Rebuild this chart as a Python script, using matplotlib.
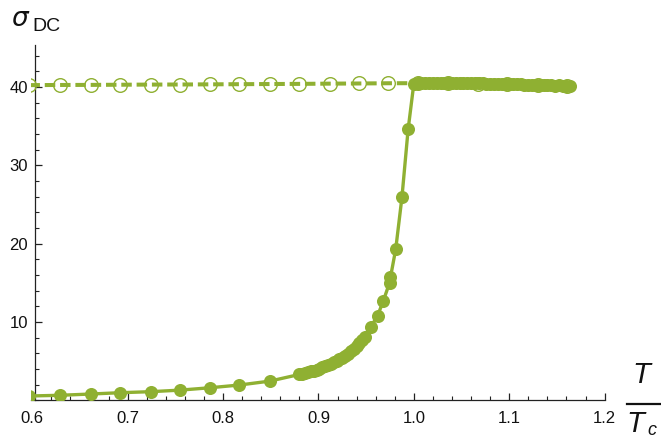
import matplotlib
matplotlib.use("Agg")
import matplotlib.pyplot as plt
from matplotlib.lines import Line2D
from matplotlib.ticker import MultipleLocator

# ---- data ----
hollow_x = [0.597, 0.629, 0.661, 0.692, 0.724, 0.755, 0.786, 0.817, 0.849, 0.880,
            0.912, 0.942, 0.973, 1.004, 1.036, 1.067, 1.098, 1.130, 1.161]
hollow_y = [40.25, 40.27, 40.28, 40.30, 40.32, 40.33, 40.35, 40.37, 40.39, 40.41,
            40.44, 40.46, 40.49, 40.50, 40.50, 40.45, 40.40, 40.30, 40.15]

solid_x = [0.597, 0.629, 0.661, 0.692, 0.724, 0.755, 0.786, 0.817, 0.849,
           0.880, 0.883, 0.886, 0.889, 0.892, 0.895, 0.898, 0.901, 0.904, 0.907,
           0.910, 0.913, 0.916, 0.919, 0.922, 0.925, 0.928, 0.931, 0.934, 0.937,
           0.940, 0.943, 0.946, 0.949, 0.955, 0.962, 0.968, 0.9745, 0.9755,
           0.981, 0.9875, 0.994,
           1.000, 1.004, 1.008, 1.012, 1.016, 1.020, 1.024, 1.028, 1.032, 1.036,
           1.040, 1.044, 1.048, 1.052, 1.056, 1.060, 1.064, 1.068, 1.072, 1.076,
           1.080, 1.084, 1.088, 1.092, 1.096, 1.100, 1.104, 1.108, 1.112, 1.116,
           1.120, 1.124, 1.128, 1.132, 1.136, 1.140, 1.144, 1.148, 1.152, 1.156,
           1.160, 1.164]
solid_y = [0.55, 0.64, 0.80, 0.97, 1.10, 1.30, 1.60, 1.95, 2.45,
           3.30, 3.40, 3.50, 3.60, 3.70, 3.80, 3.90, 4.05, 4.20, 4.35,
           4.50, 4.65, 4.85, 5.05, 5.25, 5.45, 5.70, 5.95, 6.25, 6.55,
           6.90, 7.30, 7.70, 8.10, 9.40, 10.80, 12.70, 15.00, 15.70,
           19.30, 25.90, 34.60,
           40.45, 40.50, 40.48, 40.52, 40.50, 40.47, 40.50, 40.53, 40.50, 40.48,
           40.50, 40.52, 40.49, 40.47, 40.50, 40.48, 40.46, 40.50, 40.47, 40.45,
           40.43, 40.45, 40.42, 40.40, 40.42, 40.38, 40.36, 40.38, 40.35, 40.33,
           40.32, 40.30, 40.28, 40.30, 40.26, 40.24, 40.22, 40.20, 40.22, 40.18,
           40.15, 40.12]

xticks = [0.6, 0.7, 0.8, 0.9, 1.0, 1.1, 1.2]
xtick_labels = ["0.6", "0.7", "0.8", "0.9", "1.0", "1.1", "1.2"]
yticks = [10, 20, 30, 40]
ytick_labels = ["10", "20", "30", "40"]

GREEN = "#8fb032"
W, H = 661, 438

plt.rcParams['font.family'] = ['Liberation Sans', 'DejaVu Sans']

fig = plt.figure(figsize=(W / 100, H / 100), dpi=100)
# axes box in pixels
left_px, right_px = 31.0, 604.6
top_px, bottom_px = 44.8, 400.3
ax = fig.add_axes([left_px / W, 1 - bottom_px / H,
                   (right_px - left_px) / W, (bottom_px - top_px) / H])

ax.plot(hollow_x, hollow_y, color=GREEN, lw=2.9, dashes=(2.6, 1.2),
        marker='o', ms=9.8, mfc='none', mec=GREEN, mew=1.0, zorder=2,
        clip_on=True)
ax.plot(solid_x, solid_y, color=GREEN, lw=2.4, marker='o', ms=9.4,
        mfc=GREEN, mec=GREEN, mew=0, zorder=3, clip_on=True)

ax.set_xlim(0.5986, 1.2)
ax.set_ylim(0, 45.4)

for s in ['top', 'right']:
    ax.spines[s].set_visible(False)
ax.spines['left'].set_position(('data', 0.6027))
ax.spines['bottom'].set_position(('data', 0))
for s in ['left', 'bottom']:
    ax.spines[s].set_color('#222222')
    ax.spines[s].set_linewidth(0.9)
    ax.spines[s].set_zorder(1)

ax.set_xticks(xticks)
ax.set_xticklabels(xtick_labels)
ax.set_yticks(yticks)
ax.set_yticklabels(ytick_labels)
ax.xaxis.set_minor_locator(MultipleLocator(0.02))
ax.yaxis.set_minor_locator(MultipleLocator(2))
ax.tick_params(axis='both', which='major', direction='in', length=5,
               width=0.9, color='#222222', labelsize=12, labelcolor='#111111')
ax.tick_params(axis='both', which='minor', direction='in', length=3,
               width=0.8, color='#222222')
ax.tick_params(axis='x', which='major', pad=8)
ax.tick_params(axis='y', which='major', pad=5)
ax.xaxis.get_major_ticks()[0].tick1line.set_visible(False)

def fx(px):
    return px / W

def fy(py):
    return 1 - py / H

# y-axis label sigma_DC
fig.text(fx(11), fy(26), r'$\sigma$', fontsize=19, color='#111111',
         ha='left', va='baseline', family=['DejaVu Sans'])
fig.text(fx(32), fy(31), 'DC', fontsize=14, color='#111111',
         ha='left', va='baseline')

# x-axis label T / T_c
fig.text(fx(641), fy(383), 'T', fontsize=21, style='italic', color='#111111',
         ha='center', va='baseline')
fig.add_artist(Line2D([fx(627), fx(660)], [fy(404), fy(404)],
                      color='#111111', lw=1.6, transform=fig.transFigure))
fig.text(fx(626), fy(432), 'T', fontsize=21, style='italic', color='#111111',
         ha='left', va='baseline')
fig.text(fx(647), fy(435), 'c', fontsize=13, style='italic', color='#111111',
         ha='left', va='baseline')

fig.savefig('out.png', dpi=100)
